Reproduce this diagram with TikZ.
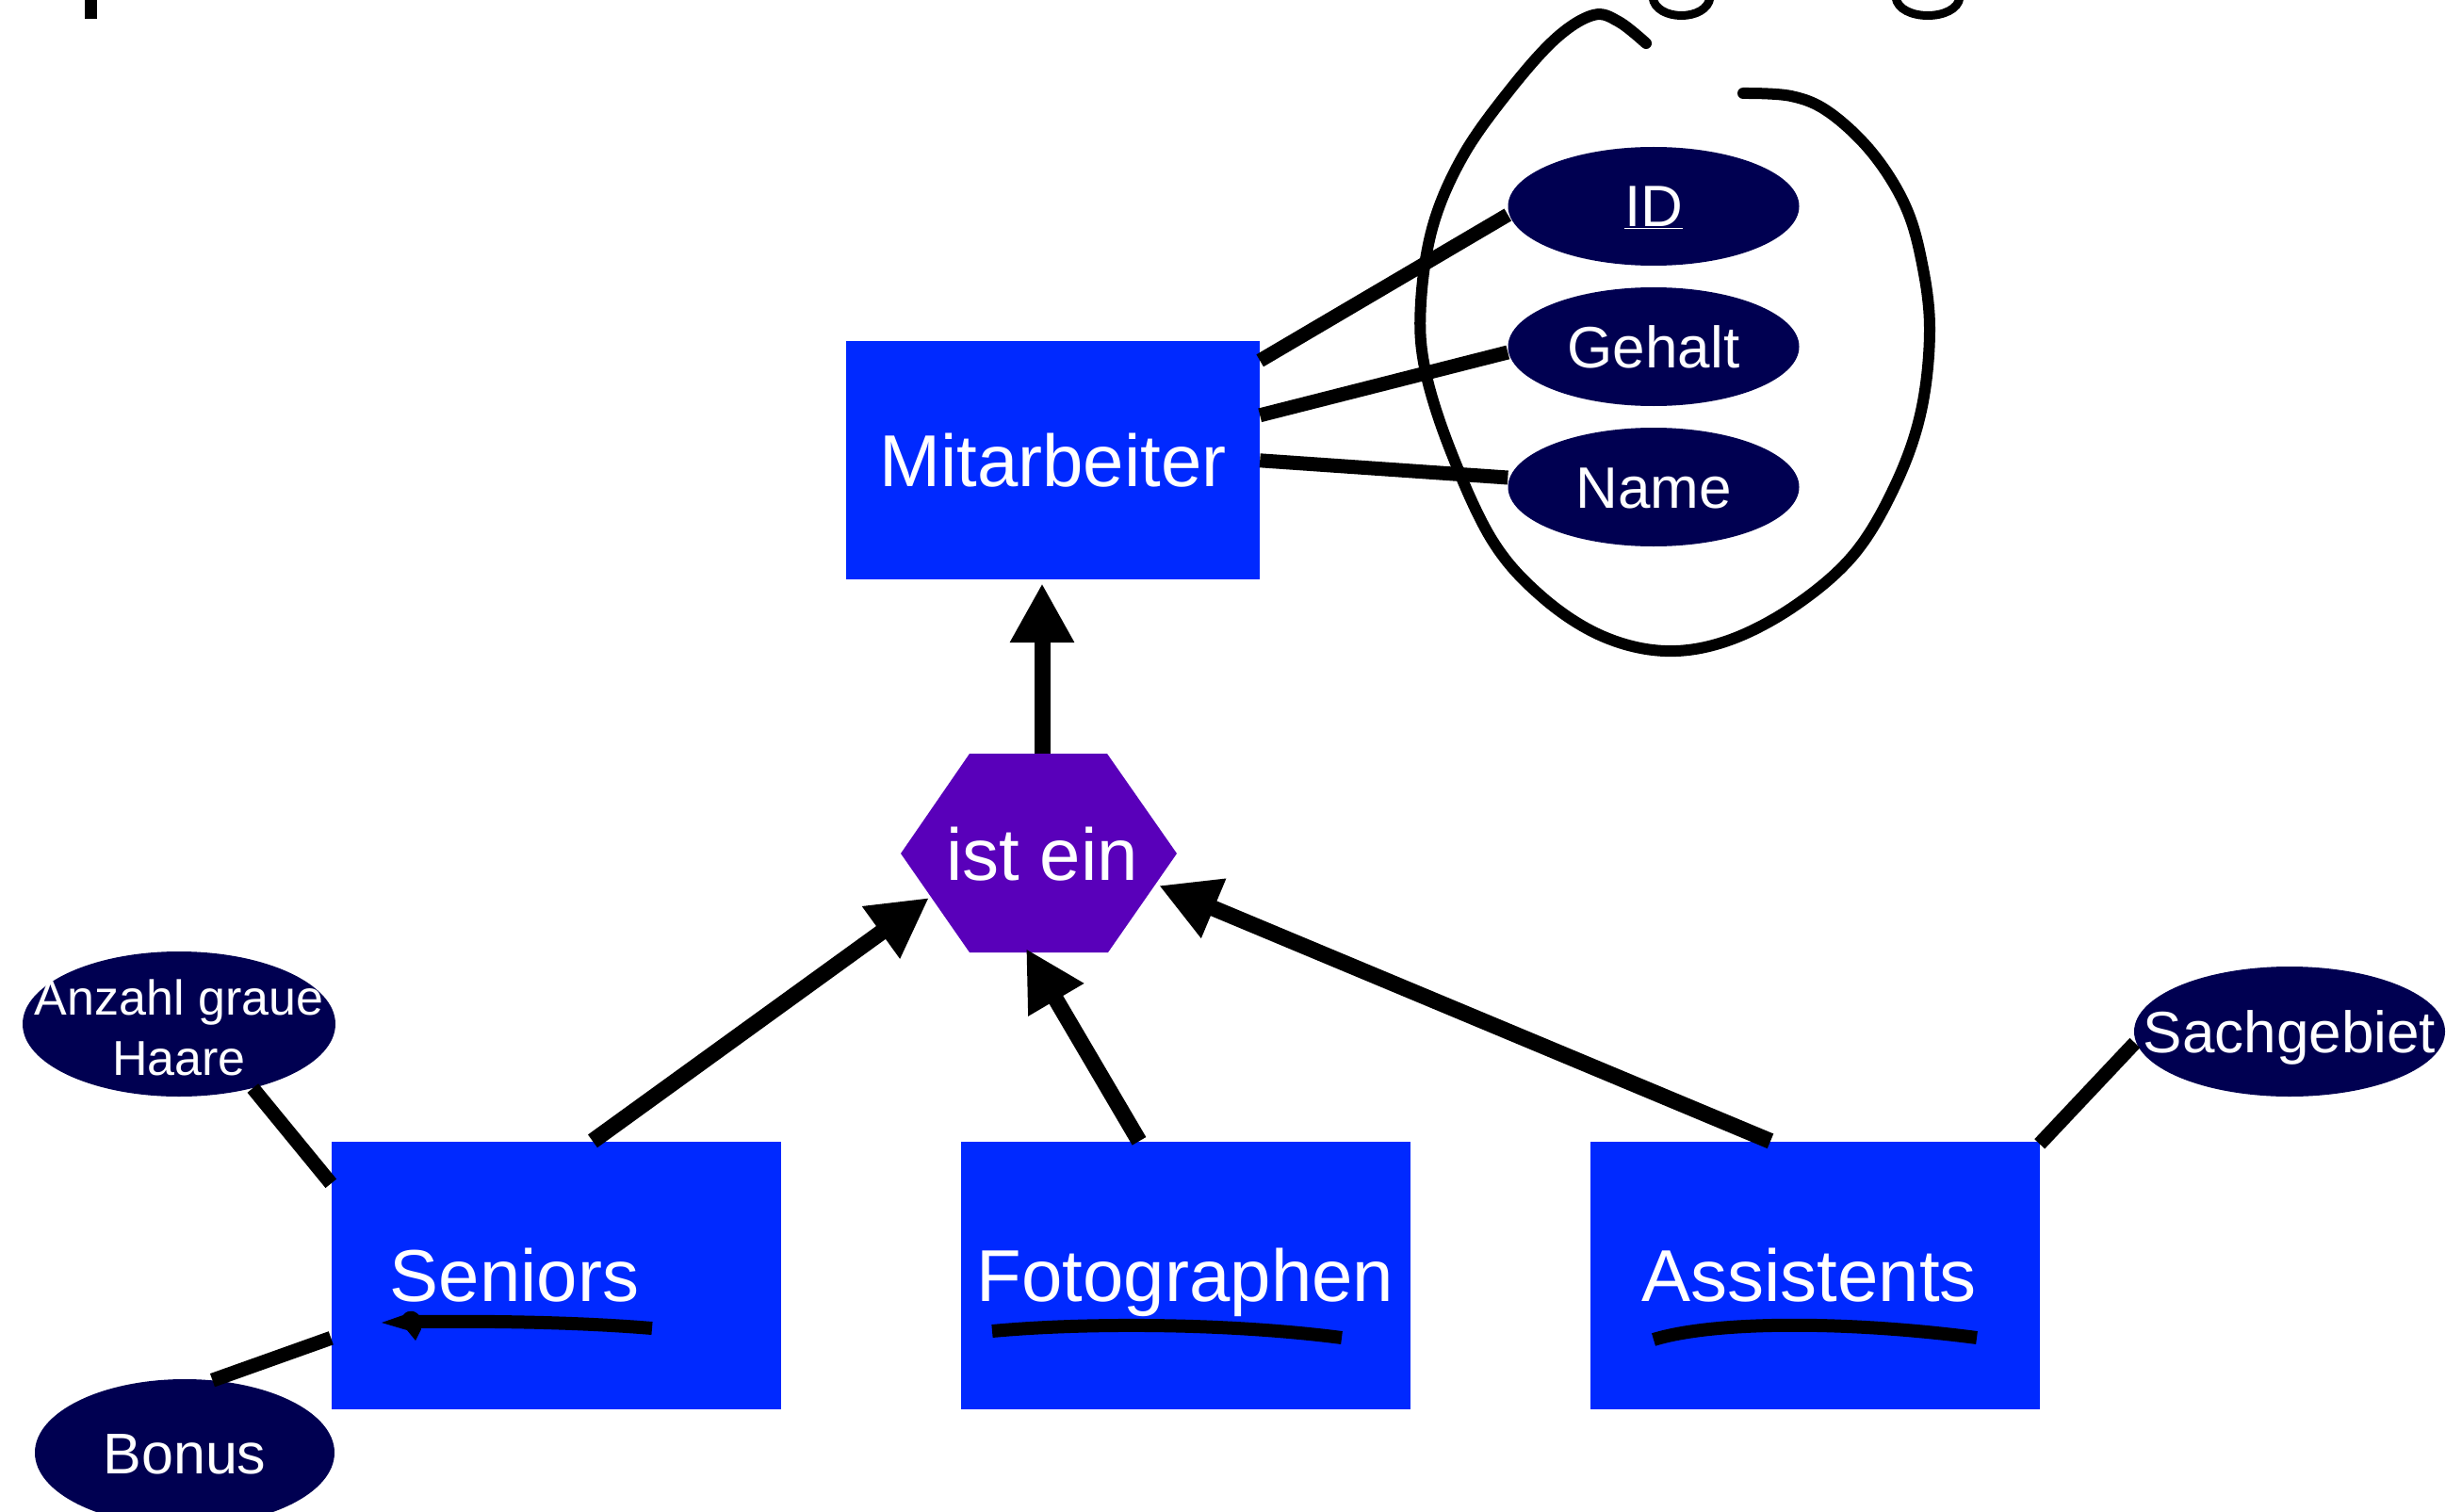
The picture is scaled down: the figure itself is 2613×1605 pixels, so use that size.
\documentclass[tikz,border=0pt]{standalone}
\usepackage{fontspec}
\setmainfont{Liberation Sans}
\usetikzlibrary{arrows.meta,shapes.geometric,calc}
\definecolor{entblue}{RGB}{0,41,255}
\definecolor{isapurple}{RGB}{89,0,186}
\definecolor{attrnavy}{RGB}{0,0,81}
\begin{document}
\begin{tikzpicture}[x=1pt,y=-1pt,
  entity/.style={fill=entblue, inner sep=0pt, text=white,
    font=\fontsize{78}{90}\selectfont, text height=56pt, text depth=0pt},
  bigbox/.style={entity, minimum width=477pt, minimum height=284pt},
  attr/.style={ellipse, fill=attrnavy, inner sep=0pt, text=white,
    minimum width=309pt, minimum height=126pt,
    font=\fontsize{62}{70}\selectfont, text height=44pt, text depth=0pt},
  link/.style={line width=15pt},
  isarrow/.style={line width=17pt, -{Triangle[length=63pt,width=64pt]}},
  pen/.style={line width=12pt, line cap=round, line join=round},
  marker/.style={line width=14pt, line cap=butt},
]
\useasboundingbox (0,0) rectangle (2613,1605);
\clip (0,0) rectangle (2613,1605);

% heading glyph fragments at the top edge
\fill (90,0) rectangle (103,20);
\draw[line width=9pt] (1754,-3) .. controls (1757,23) and (1812,23) .. (1815,-3);
\draw[line width=9pt] (2012,-3) .. controls (2015,23) and (2077,23) .. (2080,-3);

% entities
\node[entity, minimum width=439pt, minimum height=253pt] (mit) at (1117.5,488.5) {Mitarbeiter};
\node[bigbox] (sen) at (590,1353.5) {Seniors\hspace*{88pt}};
\node[bigbox] (fot) at (1258,1353.5) {Fotographen};
\node[bigbox] (ass) at (1926,1353.5) {Assistents\hspace*{12pt}};

% is-a relationship
\fill[isapurple] (1029,800) -- (1175,800) -- (1249,906) -- (1176,1011)
  -- (1029,1011) -- (956,906) -- cycle;
\node[inner sep=0pt, text=white, font=\fontsize{78}{90}\selectfont,
  text height=56pt, text depth=0pt] (isa) at (1106,906) {ist ein};
\coordinate (isaN) at (1106,800);
\coordinate (tipS) at (986,953);
\coordinate (tipF) at (1089,1007);
\coordinate (tipA) at (1230,940);

% attributes
\node[attr] (id)  at (1755,219) {\makebox[0pt]{\underline{ID}}};
\node[attr] (geh) at (1755,368) {\makebox[0pt]{Gehalt}};
\node[attr] (nam) at (1755,517) {\makebox[0pt]{Name}};
\node[attr, minimum width=332pt, minimum height=154pt] (anz) at (190,1087) {};
\node[inner sep=0pt, text=white, align=center, font=\fontsize{52}{64}\selectfont]
  (anzT) at (190,1091) {Anzahl graue\\Haare};
\node[attr, minimum width=318pt, minimum height=156pt,
  font=\fontsize{61}{70}\selectfont] (bon) at (196,1542) {\makebox[0pt]{Bonus}};
\node[attr, minimum width=330pt, minimum height=138pt] (sach) at (2430,1095) {\makebox[0pt]{Sachgebiet}};

% attribute links
\draw[link] ($(mit.north east)+(0,21)$) -- ($(id.west)+(0,9)$);
\draw[link] ($(mit.north east)+(0,79)$) -- ($(geh.west)+(0,6)$);
\draw[link] ($(mit.north east)+(0,127)$) -- ($(nam.west)+(0,-10)$);
\draw[link] (anz.-41) -- ($(sen.north west)+(0,45)$);
\draw[link] (bon.69) -- ($(sen.north west)+(0,209)$);
\draw[link] ($(ass.north east)+(0,3)$) -- ($(sach.west)+(1,12)$);

% generalisation arrows
\draw[isarrow] (isaN) -- ($(mit.south)+(-11.5,4)$);
\draw[isarrow] ($(sen.north)+(39,0)$) -- (tipS);
\draw[isarrow] ($(fot.north)+(-49,0)$) -- (tipF);
\draw[isarrow] ($(ass.north)+(-47,0)$) -- (tipA);

% hand-drawn key underlines
\draw[marker] (440,1403) .. controls (530,1402) and (620,1404) .. (692,1410);
\fill (405,1404) -- (428,1396) .. controls (433,1389) and (442,1391) .. (446,1398)
  -- (447,1411) -- (441,1423) -- (432,1412) -- cycle;
\draw[marker] (1053,1413) .. controls (1150,1404) and (1300,1404) .. (1424,1420);
\draw[marker] (1755,1422) .. controls (1820,1402) and (1960,1402) .. (2098,1420);

% hand-drawn loop round the inherited attributes
\draw[pen] plot[smooth, tension=0.6] coordinates {
  (1850,99) (1901,102) (1941,119) (1986,161) (2021,216) (2039,275)
  (2048,349) (2039,436) (2012,514) (1968,588) (1905,643) (1834,680)
  (1767,691) (1700,675) (1637,634) (1584,574) (1539,477) (1512,390)
  (1508,321) (1521,239) (1553,165) (1602,96) (1651,41) (1691,16)
  (1718,23) (1747,46)};
\end{tikzpicture}
\end{document}
